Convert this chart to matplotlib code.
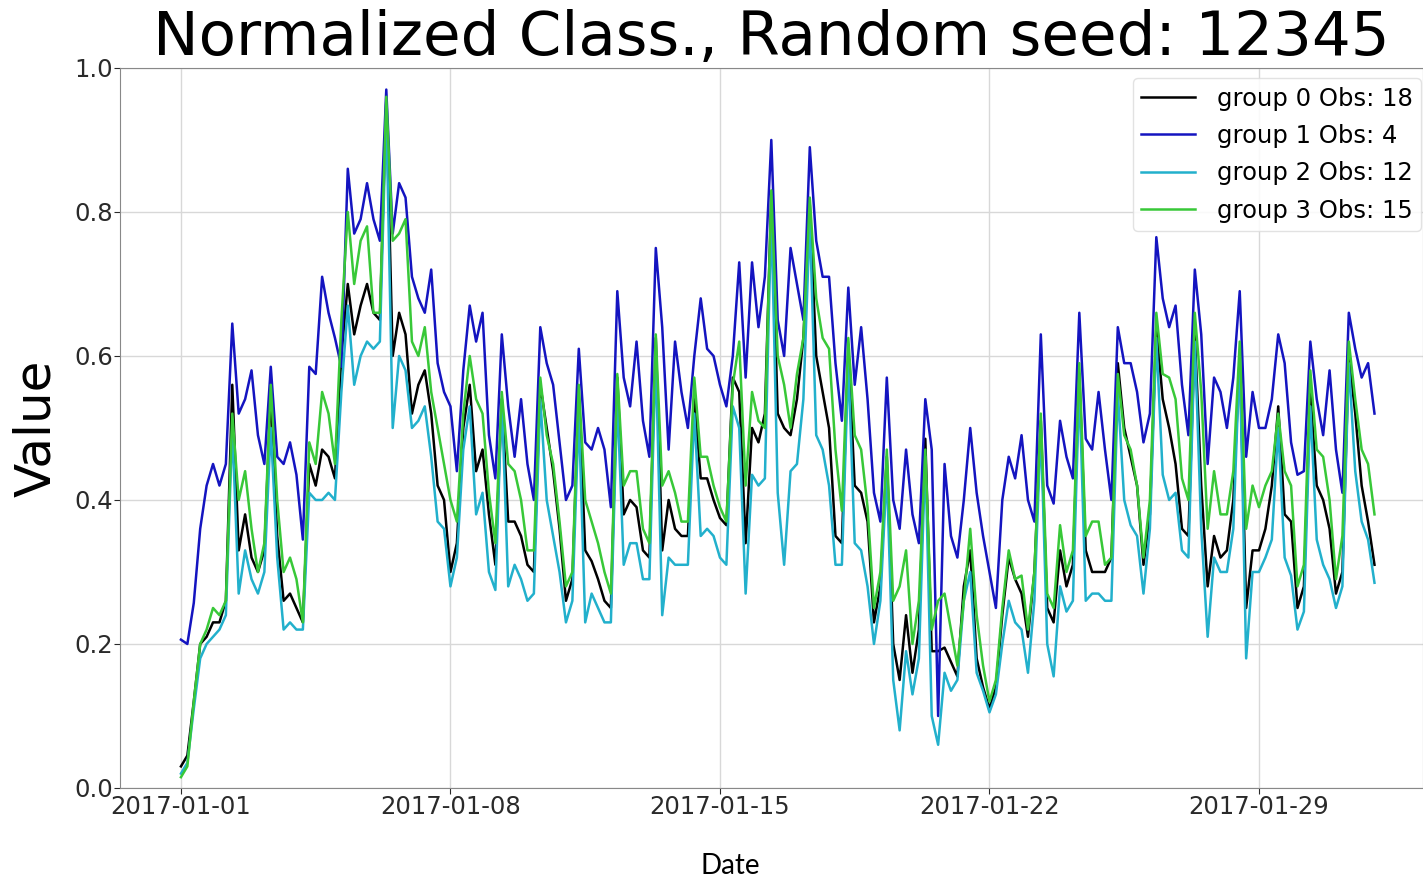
import pandas as pd
import matplotlib
matplotlib.use('Agg')
from matplotlib import pyplot as plt
import matplotlib.dates as mdates

# ---------------------------- data ----------------------------------------
# values every 4 hours, 2017-01-01 00:00 .. 2017-02-01 00:00
start = '2017-01-01'
step = '4h'
tick_dates = ['2017-01-01', '2017-01-08', '2017-01-15', '2017-01-22', '2017-01-29']

group_names = ['group 0', 'group 1', 'group 2', 'group 3']
group_obs = [18, 4, 12, 15]
group_colors = ['black', '#1414c0', '#22b0cc', '#38c838']

group0 = [
    0.03, 0.045, 0.12, 0.20, 0.21, 0.23,     # Jan 1
    0.23, 0.26, 0.56, 0.33, 0.38, 0.32,
    0.30, 0.33, 0.55, 0.35, 0.26, 0.27,
    0.25, 0.23, 0.45, 0.42, 0.47, 0.46,
    0.43, 0.60, 0.70, 0.63, 0.67, 0.70,      # Jan 5
    0.66, 0.65, 0.955, 0.60, 0.66, 0.63,
    0.52, 0.56, 0.58, 0.52, 0.42, 0.40,
    0.30, 0.34, 0.50, 0.56, 0.44, 0.47,
    0.38, 0.31, 0.54, 0.37, 0.37, 0.35,
    0.31, 0.30, 0.56, 0.50, 0.44, 0.36,      # Jan 10
    0.26, 0.29, 0.55, 0.33, 0.315, 0.29,
    0.26, 0.25, 0.57, 0.38, 0.40, 0.39,
    0.33, 0.32, 0.625, 0.33, 0.40, 0.36,
    0.35, 0.35, 0.54, 0.43, 0.43, 0.40,
    0.375, 0.365, 0.57, 0.55, 0.34, 0.50,    # Jan 15
    0.48, 0.52, 0.82, 0.52, 0.50, 0.49,
    0.54, 0.625, 0.81, 0.60, 0.55, 0.50,
    0.35, 0.34, 0.61, 0.42, 0.41, 0.37,
    0.23, 0.28, 0.46, 0.20, 0.15, 0.24,
    0.16, 0.22, 0.485, 0.19, 0.19, 0.195,    # Jan 20
    0.175, 0.155, 0.28, 0.33, 0.18, 0.14,
    0.11, 0.14, 0.24, 0.32, 0.29, 0.27,
    0.21, 0.30, 0.51, 0.25, 0.23, 0.33,
    0.28, 0.31, 0.575, 0.33, 0.30, 0.30,
    0.30, 0.32, 0.59, 0.50, 0.46, 0.42,      # Jan 25
    0.31, 0.38, 0.64, 0.54, 0.50, 0.45,
    0.36, 0.35, 0.63, 0.42, 0.28, 0.35,
    0.32, 0.33, 0.40, 0.60, 0.25, 0.33,
    0.33, 0.36, 0.42, 0.53, 0.38, 0.37,
    0.25, 0.28, 0.55, 0.42, 0.40, 0.36,      # Jan 30
    0.27, 0.30, 0.60, 0.52, 0.42, 0.37,
    0.31,
]

group1 = [
    0.206, 0.20, 0.257, 0.36, 0.42, 0.45,    # Jan 1
    0.42, 0.45, 0.645, 0.52, 0.54, 0.58,
    0.49, 0.45, 0.585, 0.46, 0.45, 0.48,
    0.435, 0.345, 0.585, 0.575, 0.71, 0.66,
    0.625, 0.585, 0.86, 0.77, 0.79, 0.84,    # Jan 5
    0.79, 0.76, 0.97, 0.77, 0.84, 0.82,
    0.71, 0.68, 0.66, 0.72, 0.59, 0.55,
    0.53, 0.44, 0.58, 0.67, 0.62, 0.66,
    0.49, 0.43, 0.63, 0.53, 0.46, 0.54,
    0.45, 0.40, 0.64, 0.59, 0.56, 0.48,      # Jan 10
    0.40, 0.42, 0.61, 0.48, 0.47, 0.50,
    0.47, 0.39, 0.69, 0.57, 0.53, 0.62,
    0.51, 0.46, 0.75, 0.64, 0.47, 0.62,
    0.55, 0.50, 0.60, 0.68, 0.61, 0.60,
    0.56, 0.53, 0.60, 0.73, 0.57, 0.73,      # Jan 15
    0.64, 0.71, 0.90, 0.65, 0.60, 0.75,
    0.70, 0.65, 0.89, 0.76, 0.71, 0.71,
    0.59, 0.51, 0.695, 0.56, 0.64, 0.54,
    0.41, 0.37, 0.57, 0.40, 0.36, 0.47,
    0.38, 0.34, 0.54, 0.47, 0.10, 0.45,      # Jan 20
    0.35, 0.32, 0.40, 0.50, 0.41, 0.35,
    0.30, 0.25, 0.40, 0.46, 0.43, 0.49,
    0.40, 0.37, 0.63, 0.42, 0.395, 0.51,
    0.46, 0.43, 0.66, 0.485, 0.47, 0.55,
    0.47, 0.40, 0.64, 0.59, 0.59, 0.55,      # Jan 25
    0.48, 0.52, 0.765, 0.68, 0.64, 0.67,
    0.56, 0.49, 0.72, 0.63, 0.45, 0.57,
    0.55, 0.50, 0.57, 0.69, 0.46, 0.55,
    0.50, 0.50, 0.54, 0.63, 0.59, 0.48,
    0.435, 0.44, 0.62, 0.54, 0.49, 0.58,     # Jan 30
    0.47, 0.41, 0.66, 0.61, 0.57, 0.59,
    0.52,
]

group2 = [
    0.02, 0.035, 0.11, 0.18, 0.20, 0.21,     # Jan 1
    0.22, 0.24, 0.50, 0.27, 0.33, 0.29,
    0.27, 0.30, 0.50, 0.32, 0.22, 0.23,
    0.22, 0.22, 0.41, 0.40, 0.40, 0.41,
    0.40, 0.55, 0.67, 0.56, 0.60, 0.62,      # Jan 5
    0.61, 0.62, 0.94, 0.50, 0.60, 0.58,
    0.50, 0.51, 0.53, 0.46, 0.37, 0.36,
    0.28, 0.32, 0.47, 0.53, 0.38, 0.41,
    0.30, 0.275, 0.54, 0.28, 0.31, 0.29,
    0.26, 0.27, 0.54, 0.40, 0.35, 0.30,      # Jan 10
    0.23, 0.26, 0.52, 0.23, 0.27, 0.25,
    0.23, 0.23, 0.54, 0.31, 0.34, 0.34,
    0.29, 0.29, 0.60, 0.24, 0.32, 0.31,
    0.31, 0.31, 0.52, 0.35, 0.36, 0.35,
    0.32, 0.31, 0.53, 0.50, 0.27, 0.435,     # Jan 15
    0.42, 0.43, 0.80, 0.41, 0.31, 0.44,
    0.45, 0.54, 0.79, 0.49, 0.47, 0.42,
    0.31, 0.31, 0.59, 0.34, 0.33, 0.28,
    0.20, 0.26, 0.44, 0.15, 0.08, 0.19,
    0.13, 0.18, 0.46, 0.10, 0.06, 0.16,      # Jan 20
    0.135, 0.15, 0.26, 0.30, 0.16, 0.135,
    0.105, 0.13, 0.20, 0.26, 0.23, 0.22,
    0.16, 0.26, 0.50, 0.20, 0.155, 0.28,
    0.245, 0.26, 0.56, 0.26, 0.27, 0.27,
    0.26, 0.26, 0.55, 0.40, 0.365, 0.35,     # Jan 25
    0.27, 0.36, 0.625, 0.435, 0.40, 0.41,
    0.33, 0.32, 0.62, 0.36, 0.21, 0.32,
    0.30, 0.30, 0.36, 0.60, 0.18, 0.30,
    0.30, 0.32, 0.345, 0.50, 0.32, 0.295,
    0.22, 0.245, 0.53, 0.345, 0.31, 0.29,    # Jan 30
    0.25, 0.28, 0.59, 0.44, 0.37, 0.345,
    0.285,
]

group3 = [
    0.015, 0.03, 0.12, 0.20, 0.22, 0.25,     # Jan 1
    0.24, 0.26, 0.52, 0.40, 0.44, 0.36,
    0.30, 0.34, 0.56, 0.40, 0.30, 0.32,
    0.29, 0.23, 0.48, 0.45, 0.55, 0.52,
    0.45, 0.65, 0.80, 0.70, 0.76, 0.78,      # Jan 5
    0.66, 0.66, 0.96, 0.76, 0.77, 0.79,
    0.62, 0.60, 0.64, 0.55, 0.50, 0.45,
    0.40, 0.37, 0.52, 0.60, 0.54, 0.52,
    0.41, 0.34, 0.55, 0.45, 0.44, 0.40,
    0.33, 0.33, 0.57, 0.49, 0.45, 0.37,      # Jan 10
    0.28, 0.30, 0.56, 0.40, 0.37, 0.34,
    0.30, 0.27, 0.575, 0.42, 0.44, 0.44,
    0.36, 0.34, 0.63, 0.42, 0.44, 0.41,
    0.37, 0.37, 0.57, 0.46, 0.46, 0.42,
    0.39, 0.37, 0.56, 0.62, 0.42, 0.55,      # Jan 15
    0.51, 0.50, 0.83, 0.60, 0.56, 0.50,
    0.575, 0.625, 0.82, 0.68, 0.625, 0.61,
    0.47, 0.385, 0.625, 0.49, 0.47, 0.39,
    0.25, 0.30, 0.47, 0.26, 0.28, 0.33,
    0.20, 0.26, 0.47, 0.22, 0.26, 0.27,      # Jan 20
    0.22, 0.17, 0.26, 0.36, 0.24, 0.17,
    0.12, 0.15, 0.25, 0.33, 0.29, 0.295,
    0.22, 0.30, 0.52, 0.27, 0.25, 0.365,
    0.30, 0.33, 0.59, 0.35, 0.37, 0.37,
    0.31, 0.32, 0.575, 0.49, 0.47, 0.42,     # Jan 25
    0.32, 0.40, 0.66, 0.575, 0.57, 0.54,
    0.43, 0.40, 0.66, 0.55, 0.36, 0.44,
    0.38, 0.38, 0.44, 0.62, 0.36, 0.42,
    0.39, 0.42, 0.44, 0.52, 0.44, 0.42,
    0.28, 0.31, 0.58, 0.47, 0.46, 0.40,      # Jan 30
    0.29, 0.35, 0.62, 0.54, 0.47, 0.45,
    0.38,
]

# ---------------------------- plot ----------------------------------------
df = pd.DataFrame({'group 0': group0, 'group 1': group1,
                   'group 2': group2, 'group 3': group3},
                  index=pd.date_range(start, periods=len(group0), freq=step))

fig = plt.figure(figsize=(14.23, 8.77), dpi=100)
ax = fig.add_axes([0.0843, 0.1015, 0.9157, 0.821])

for name, obs, col in zip(group_names, group_obs, group_colors):
    ax.plot(df.index, df[name], color=col, lw=1.8,
            label='{} Obs: {}'.format(name, obs))

t0 = mdates.date2num(pd.Timestamp(start))
ax.set_xlim(t0 - 1.584, t0 + 32.26)
ax.set_ylim(0, 1.0)

ax.set_xticks(pd.to_datetime(tick_dates))
ax.xaxis.set_major_formatter(mdates.DateFormatter('%Y-%m-%d'))
ax.set_yticks([0.0, 0.2, 0.4, 0.6, 0.8, 1.0])
ax.yaxis.set_major_formatter(plt.FormatStrFormatter('%.1f'))

ax.grid(True, color='#d8d8d8', lw=1.0)
ax.set_axisbelow(True)
for s in ax.spines.values():
    s.set_color('#888888')
ax.tick_params(labelsize=17.5, colors='#2a2a2a', length=4, pad=1)

ax.set_title('Normalized Class., Random seed: 12345', fontsize=44, pad=2)
ax.set_ylabel('Value', fontsize=36, labelpad=10)
fig.text(0.513, 0.003, 'Date', fontsize=20, family='Lato', ha='center')

leg = ax.legend(loc='upper right', bbox_to_anchor=(0.9985, 0.986),
                fontsize=17.5, frameon=True, handlelength=2.2,
                handletextpad=0.9, borderaxespad=0.0,
                labelspacing=0.55, borderpad=0.35)
leg.get_frame().set_edgecolor('#dddddd')
leg.get_frame().set_alpha(0.85)

fig.savefig('out.png', dpi=100)
